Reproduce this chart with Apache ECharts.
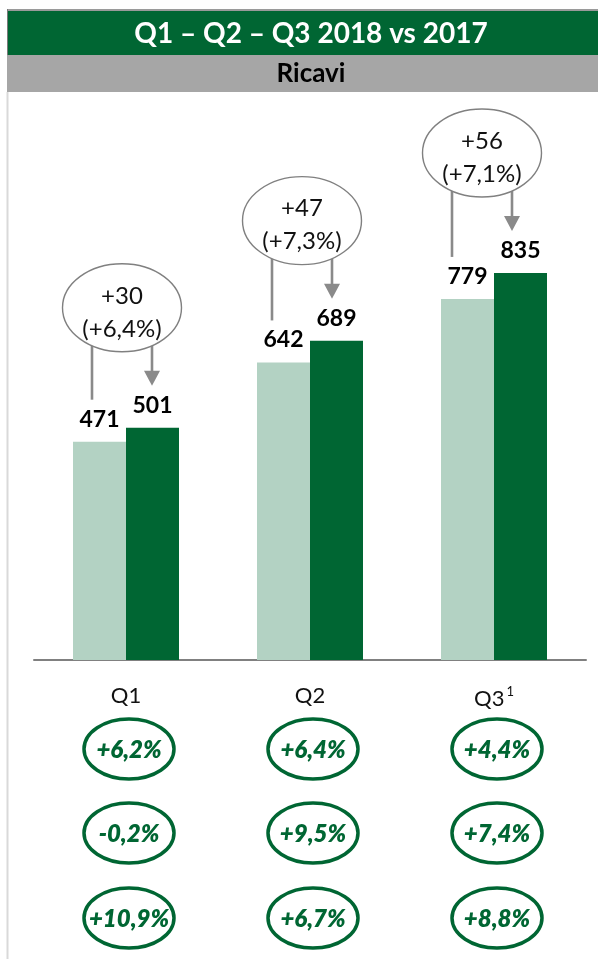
<!DOCTYPE html>
<html>
<head>
<meta charset="utf-8">
<script src="https://cdn.jsdelivr.net/npm/echarts@6/dist/echarts.min.js"></script>
<style>
html,body{margin:0;padding:0;background:#fff;}
#c{width:598px;height:959px;}
</style>
</head>
<body>
<div id="c"></div>
<script>
// ---- data ----
const categories = ['Q1', 'Q2', 'Q3'];
const values2017 = [471, 642, 779];
const values2018 = [501, 689, 835];
const deltaLabels = ['+30', '+47', '+56'];
const deltaPctLabels = ['(+6,4%)', '(+7,3%)', '(+7,1%)'];
const growthRow1 = ['+6,2%', '+6,4%', '+4,4%'];
const growthRow2 = ['-0,2%', '+9,5%', '+7,4%'];
const growthRow3 = ['+10,9%', '+6,7%', '+8,8%'];
const titleText = 'Q1 – Q2 – Q3 2018 vs 2017';
const subtitleText = 'Ricavi';

const DARK = '#006633';
const LIGHT = '#b3d2c3';
const FONT = 'Lato';

const chart = echarts.init(document.getElementById('c'), null, {renderer: 'canvas'});

const annData = categories.map((c, i) => [i, values2017[i], values2018[i]]);
const growthData = categories.map((c, i) => [i, 0]);
const growthRows = [growthRow1, growthRow2, growthRow3];

function renderAnnotation(params, api) {
  const i = params.dataIndex;
  const drift = -4 * (i - 1);
  const pL = api.coord([api.value(0), api.value(1)]);
  const pD = api.coord([api.value(0), api.value(2)]);
  const c = pL[0] + drift;
  const ex = c - 8, ey = pD[1] - 120, rx = 59.5, ry = 44;
  const lx = c - 38, ax = c + 22;
  const dy = ry * Math.sqrt(1 - Math.pow(30 / rx, 2));
  const lineBottom = pL[1] - 42;
  const tip = pD[1] - 42;
  const grey = '#8a8a8a';
  return {
    type: 'group',
    children: [
      {type: 'line', shape: {x1: lx, y1: ey + dy - 1, x2: lx, y2: lineBottom}, style: {stroke: grey, lineWidth: 2.6}},
      {type: 'line', shape: {x1: ax, y1: ey + dy - 1, x2: ax, y2: tip - 14}, style: {stroke: grey, lineWidth: 2.6}},
      {type: 'polygon', shape: {points: [[ax - 8, tip - 15], [ax + 8, tip - 15], [ax, tip]]}, style: {fill: grey}},
      {type: 'ellipse', shape: {cx: ex, cy: ey, rx: rx, ry: ry}, style: {fill: '#fff', stroke: '#808080', lineWidth: 1.4}},
      {type: 'text', x: ex, y: ey - 12, style: {text: deltaLabels[i], fill: '#111', font: '400 24px ' + FONT, align: 'center', verticalAlign: 'middle'}},
      {type: 'text', x: ex, y: ey + 21, style: {text: deltaPctLabels[i], fill: '#111', font: '400 24px ' + FONT, align: 'center', verticalAlign: 'middle'}}
    ]
  };
}

function renderGrowth(params, api) {
  const i = params.dataIndex;
  const p = api.coord([api.value(0), 0]);
  const offs = [89, 173, 258];
  const children = [];
  growthRows.forEach((row, r) => {
    const cx = p[0] + 3, cy = p[1] + offs[r];
    children.push({type: 'ellipse', shape: {cx: cx, cy: cy, rx: 45, ry: 30}, style: {fill: '#fff', stroke: DARK, lineWidth: 3.5}});
    children.push({type: 'text', x: cx, y: cy + 1, style: {text: row[i], fill: DARK, font: 'italic 800 24px ' + FONT, align: 'center', verticalAlign: 'middle'}});
  });
  return {type: 'group', children: children};
}

const option = {
  backgroundColor: '#fff',
  animation: false,
  grid: {left: 34, right: 12, top: 196.5, bottom: 299},
  xAxis: {
    type: 'category',
    data: categories,
    axisTick: {show: false},
    axisLine: {lineStyle: {color: '#808080', width: 2}},
    axisLabel: {
      margin: 25,
      color: '#111',
      fontFamily: FONT,
      fontSize: 22,
      formatter: (v, idx) => idx === 2 ? '{a|' + v + '}{s|1}' : '{a|' + v + '}',
      rich: {
        a: {fontFamily: FONT, fontSize: 22, color: '#111'},
        s: {fontFamily: FONT, fontSize: 13, color: '#111', verticalAlign: 'top', padding: [0, 0, 14, 2]}
      }
    }
  },
  yAxis: {type: 'value', min: 0, max: 1000, show: false, splitLine: {show: false}},
  series: [
    {
      name: '2017', type: 'bar', data: values2017, barWidth: 53, barGap: '0%',
      itemStyle: {color: LIGHT},
      label: {show: true, position: 'top', distance: 11, color: '#000', fontFamily: FONT, fontWeight: 'bold', fontSize: 23}
    },
    {
      name: '2018', type: 'bar', data: values2018, barWidth: 53, barGap: '0%',
      itemStyle: {color: DARK},
      label: {show: true, position: 'top', distance: 11, color: '#000', fontFamily: FONT, fontWeight: 'bold', fontSize: 23}
    },
    {type: 'custom', data: annData, renderItem: renderAnnotation, clip: false, z: 5, silent: true},
    {type: 'custom', data: growthData, renderItem: renderGrowth, clip: false, z: 5, silent: true}
  ],
  graphic: [
    {type: 'rect', shape: {x: 7, y: 9, width: 591, height: 2}, style: {fill: '#9a9a9a'}},
    {type: 'rect', shape: {x: 7, y: 11, width: 591, height: 44}, style: {fill: DARK}},
    {type: 'rect', shape: {x: 7, y: 9, width: 1, height: 46}, style: {fill: '#7a7a7a'}},
    {type: 'rect', shape: {x: 7, y: 55, width: 591, height: 37}, style: {fill: '#a6a6a6'}},
    {type: 'rect', shape: {x: 6.5, y: 92, width: 2, height: 867}, style: {fill: '#d9d9d9'}},
    {type: 'text', x: 311, y: 34, style: {text: titleText, fill: '#fff', font: '700 28px ' + FONT, align: 'center', verticalAlign: 'middle'}},
    {type: 'text', x: 311, y: 74, style: {text: subtitleText, fill: '#000', font: '700 26px ' + FONT, align: 'center', verticalAlign: 'middle'}}
  ]
};
chart.setOption(option);
</script>
</body>
</html>
